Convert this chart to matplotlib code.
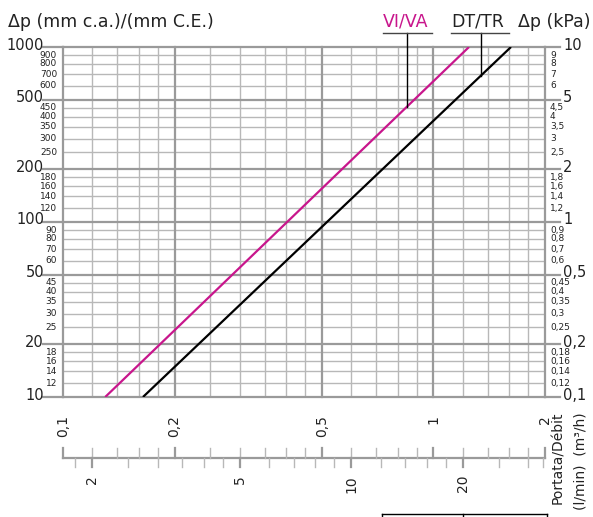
import numpy as np
import matplotlib
matplotlib.use("Agg")
import matplotlib.pyplot as plt

# flow (m3/h) gridlines, majors drawn heavier
q_minor = [0.12, 0.14, 0.16, 0.18, 0.25, 0.3, 0.35, 0.4, 0.45,
           0.6, 0.7, 0.8, 0.9, 1.2, 1.4, 1.6, 1.8]
q_major = [0.1, 0.2, 0.5, 1, 2]
q_labels = ["0,1", "0,2", "0,5", "1", "2"]

# pressure drop (mm c.a.) gridlines
dp_minor = [900, 800, 700, 600, 450, 400, 350, 300, 250,
            180, 160, 140, 120, 90, 80, 70, 60, 45, 40, 35, 30, 25,
            18, 16, 14, 12]
dp_major = [1000, 500, 200, 100, 50, 20, 10]

# secondary flow scale in l/min
lmin_ticks = [1.8, 2, 2.5, 3, 3.5, 4, 4.5, 5, 6, 7, 8, 9, 10,
              12, 14, 16, 18, 20, 25, 30, 33]
lmin_major = [2, 5, 10, 20]

# curves (m3/h, mm c.a.)
vi_va_q = [0.130, 1.247]
vi_va_dp = [10, 1000]
dt_tr_q = [0.1644, 1.619]
dt_tr_dp = [10, 1000]

magenta = "#c8168c"
grid_minor = "#b8b8b8"
grid_major = "#9a9a9a"

W, H = 593, 517
fig = plt.figure(figsize=(W / 100, H / 100), dpi=100)
L, R, T, B = 63, 545, 47, 397
ax = fig.add_axes([L / W, 1 - B / H, (R - L) / W, (B - T) / H])
ax.set_xscale("log")
ax.set_yscale("log")
ax.set_xlim(0.1, 2)
ax.set_ylim(10, 1000)
ax.set_xticks([])
ax.set_yticks([])
ax.minorticks_off()
for s in ax.spines.values():
    s.set_visible(False)

def px(x, y):
    return x / W, 1 - y / H

for q in q_minor:
    ax.axvline(q, color=grid_minor, lw=1.0, zorder=1)
for d in dp_minor:
    ax.axhline(d, color=grid_minor, lw=1.0, zorder=1)
for q in q_major:
    ax.axvline(q, color=grid_major, lw=1.6, zorder=2, clip_on=False)
for d in dp_major:
    ax.axhline(d, color=grid_major, lw=1.6, zorder=2, clip_on=False)

ax.plot(vi_va_q, vi_va_dp, color=magenta, lw=1.6, zorder=5, solid_capstyle="butt")
ax.plot(dt_tr_q, dt_tr_dp, color="black", lw=1.6, zorder=5, solid_capstyle="butt")

ytr = ax.get_yaxis_transform()
xtr = ax.get_xaxis_transform()
aw = R - L
ah = B - T

# left scale (mm c.a.)
for d in dp_minor:
    ax.annotate(str(d), xy=(0, d), xycoords=ytr, xytext=(-6, 0),
                textcoords="offset pixels", ha="right", va="center",
                fontsize=6.5, color="#222222")
for d in dp_major:
    ax.plot([-20 / aw, 0], [d, d], transform=ytr, color=grid_major, lw=1.6, clip_on=False)
    ax.annotate(str(d), xy=(0, d), xycoords=ytr, xytext=(-19, 2),
                textcoords="offset pixels", ha="right", va="center",
                fontsize=10.5, color="#222222")

# right scale (kPa)
def kpa(v):
    return ("%g" % (v / 100.0)).replace(".", ",")

for d in dp_minor:
    ax.annotate(kpa(d), xy=(1, d), xycoords=ytr, xytext=(5, 0),
                textcoords="offset pixels", ha="left", va="center",
                fontsize=6.5, color="#222222")
for d in dp_major:
    ax.plot([1, 1 + 15 / aw], [d, d], transform=ytr, color=grid_major, lw=1.6, clip_on=False)
    ax.annotate(kpa(d), xy=(1, d), xycoords=ytr, xytext=(18, 2),
                textcoords="offset pixels", ha="left", va="center",
                fontsize=10.5, color="#222222")

# bottom m3/h labels
for q, lab in zip(q_major, q_labels):
    ax.annotate(lab, xy=(q, 0), xycoords=xtr, xytext=(0, -18),
                textcoords="offset pixels", ha="center", va="top",
                rotation=90, fontsize=10, color="#222222")

# double flow scale below
ys = -(458 - B) / ah
yu = -(448 - B) / ah
yl = -(467 - B) / ah
ax.plot([0.1, 2], [ys, ys], transform=xtr, color=grid_major, lw=1.6, clip_on=False)
for q in q_minor + q_major:
    ax.plot([q, q], [ys, yu], transform=xtr, color=grid_minor if q in q_minor else grid_major,
            lw=1.0 if q in q_minor else 1.6, clip_on=False)
for v in lmin_ticks:
    q = v * 0.06
    major = v in lmin_major
    ax.plot([q, q], [ys, yl], transform=xtr, color=grid_major if major else grid_minor,
            lw=1.6 if major else 1.0, clip_on=False)
for v in lmin_major:
    ax.annotate(str(v), xy=(v * 0.06, ys), xycoords=xtr, xytext=(0, -(475 - 458)),
                textcoords="offset pixels", ha="center", va="top",
                rotation=90, fontsize=10, color="#222222")

# titles
fig.text(*px(8, 27), "Δp (mm c.a.)/(mm C.E.)", fontsize=12.5, va="baseline", ha="left", color="#222222")
fig.text(*px(591, 27), "Δp (kPa)", fontsize=12.5, va="baseline", ha="right", color="#222222")
fig.text(*px(406, 27), "VI/VA", fontsize=12.5, va="baseline", ha="center", color=magenta)
fig.text(*px(478, 27), "DT/TR", fontsize=12.5, va="baseline", ha="center", color="#222222")
fig.text(*px(558, 412), "Portata/Débit", fontsize=10, rotation=90, ha="center", va="top", color="#222222")
fig.text(*px(580, 412), "(l/min)  (m³/h)", fontsize=10, rotation=90, ha="center", va="top", color="#222222")

# underlines + leaders to the curves
for x0, x1 in [(383, 432), (451, 509)]:
    fig.add_artist(plt.Line2D([x0 / W, x1 / W], [1 - 33 / H, 1 - 33 / H], color="#444444", lw=1.0))
y_top = 1000 * 10 ** ((T - 33) / ah * 2)
for xp, qs, ds in [(407, vi_va_q, vi_va_dp), (481, dt_tr_q, dt_tr_dp)]:
    q = 0.1 * 10 ** ((xp - L) / aw * np.log10(20))
    d = 10 ** np.interp(np.log10(q), np.log10(qs), np.log10(ds))
    ax.plot([q, q], [d, y_top], color="black", lw=1.0, clip_on=False, zorder=6)

# bit of the table below, cut off by the frame
for seg in [((382, 514), (547, 514)), ((382, 514), (382, 520)),
            ((463, 514), (463, 520)), ((547, 514), (547, 520))]:
    (xa, ya), (xb, yb) = seg
    fig.add_artist(plt.Line2D([xa / W, xb / W], [1 - ya / H, 1 - yb / H], color="black", lw=1.0))

fig.savefig("out.png", dpi=100)
